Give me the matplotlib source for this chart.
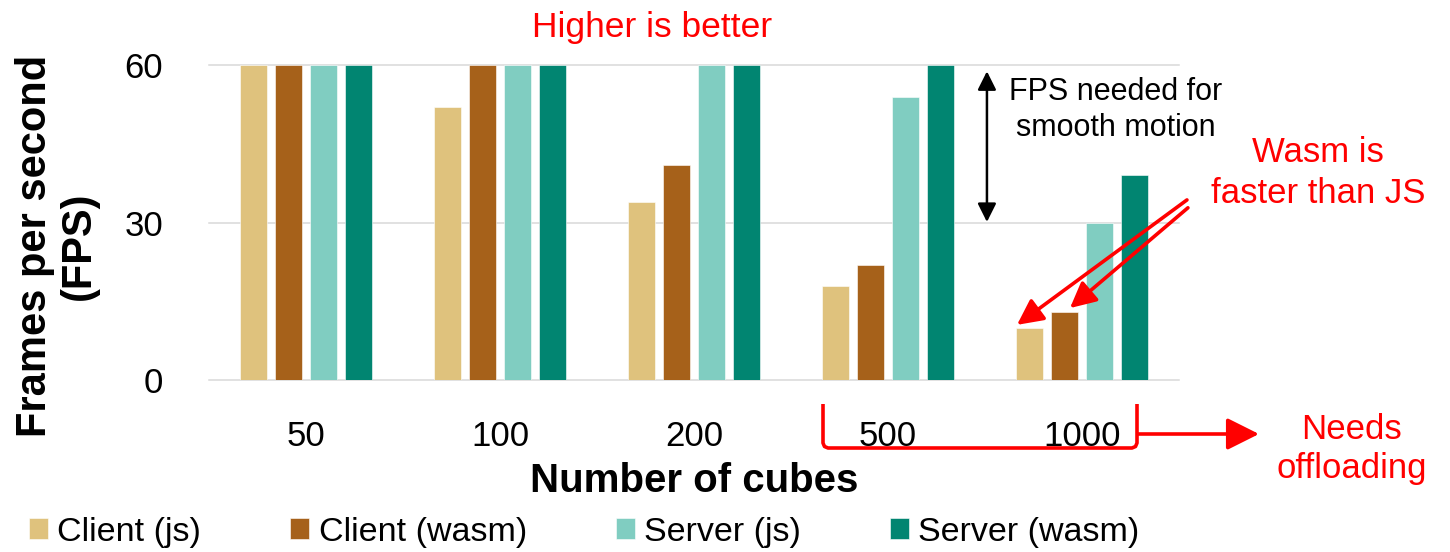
import matplotlib
matplotlib.use("Agg")
import matplotlib.pyplot as plt
import numpy as np
from matplotlib.lines import Line2D

plt.rcParams['font.family'] = ['Liberation Sans', 'DejaVu Sans']

categories = ["50", "100", "200", "500", "1000"]
series_names = ["Client (js)", "Client (wasm)", "Server (js)", "Server (wasm)"]
client_js = [60, 52, 34, 18, 10]
client_wasm = [60, 60, 41, 22, 13]
server_js = [60, 60, 60, 54, 30]
server_wasm = [60, 60, 60, 60, 39]
colors = ["#DFC27D", "#A6611A", "#80CDC1", "#018571"]
yticks = [0, 30, 60]

W, H = 1450, 552
fig = plt.figure(figsize=(W / 100, H / 100), dpi=100)
ax = fig.add_axes([209 / W, 1 - 380 / H, (1179 - 209) / W, (380 - 65) / H])

x = np.arange(len(categories))
step, width = 0.18, 0.142
all_series = [client_js, client_wasm, server_js, server_wasm]
for i, (vals, name, c) in enumerate(zip(all_series, series_names, colors)):
    ax.bar(x + (i - 1.5) * step, vals, width, color=c, label=name, zorder=3,
           edgecolor='white', linewidth=0.4)

ax.set_xlim(-0.5, len(categories) - 0.5)
ax.set_ylim(0, 60)
ax.set_yticks(yticks)
ax.set_yticklabels([str(t) for t in yticks], fontsize=25)
ax.set_xticks(x)
ax.set_xticklabels(categories, fontsize=25)
ax.tick_params(axis='both', length=0)
ax.tick_params(axis='y', pad=33)
ax.tick_params(axis='x', pad=29)
for s in ax.spines.values():
    s.set_visible(False)
ax.set_axisbelow(True)
for t in yticks:
    ax.axhline(t, color='#d9d9d9', linewidth=1.1, zorder=1, clip_on=False)

ax.set_ylabel("Frames per second\n(FPS)", fontsize=30, fontweight='bold',
              linespacing=1.12)
ax.yaxis.set_label_coords(-(209 - 57) / (1179 - 209), (380 - 246) / 315)
ax.yaxis.label.set_va('center')
ax.set_xlabel("Number of cubes", fontsize=29, fontweight='bold')
ax.xaxis.set_label_coords(0.5, -(481 - 380) / 315)
ax.xaxis.label.set_va('center')

def fp(px, py):
    return (px / W, 1 - py / H)

fig.text(*fp(652, 27), "Higher is better", color='red', fontsize=25.5,
         ha='center', va='center')
fig.text(*fp(1116, 110), "FPS needed for\nsmooth motion", color='black',
         fontsize=22, ha='center', va='center', linespacing=1.25)
fig.text(*fp(1318, 173), "Wasm is\nfaster than JS", color='red', fontsize=25,
         ha='center', va='center', linespacing=1.3)
fig.text(*fp(1352, 449), "Needs\noffloading", color='red', fontsize=25,
         ha='center', va='center', linespacing=1.22)

# FPS needed double arrow
ax.annotate("", xy=(3.51, 58.8), xytext=(3.51, 30.1), xycoords='data',
            arrowprops=dict(arrowstyle='<|-|>', color='black', lw=1.8,
                            mutation_scale=28, shrinkA=0, shrinkB=0),
            annotation_clip=False)

# red arrows to client bars
for (x0, y0), (x1, y1) in [((4.541, 34.3), (3.665, 10.5)),
                           ((4.546, 32.8), (3.938, 13.7))]:
    ax.annotate("", xy=(x1, y1), xytext=(x0, y0), xycoords='data',
                arrowprops=dict(arrowstyle='-|>,head_length=0.6,head_width=0.3',
                                color='red', lw=2.6,
                                mutation_scale=26, shrinkA=0, shrinkB=0),
                annotation_clip=False)

# bracket around 500 and 1000 (rounded corners)
r = 5
bx = [823, 823, 823 + r * 0.3, 823 + r, 1137 - r, 1137 - r * 0.3, 1137, 1137]
by = [404, 448 - r, 448 - r * 0.3, 448, 448, 448 - r * 0.3, 448 - r, 404]
fig.add_artist(Line2D([p / W for p in bx], [1 - p / H for p in by],
                      color='red', lw=2.6, solid_joinstyle='round',
                      solid_capstyle='butt', transform=fig.transFigure))
fig.add_artist(matplotlib.patches.FancyArrowPatch(
    fp(1138, 434), fp(1259, 434), transform=fig.transFigure,
    arrowstyle='-|>,head_length=0.7,head_width=0.35', mutation_scale=28,
    color='red', lw=2.6, shrinkA=0, shrinkB=0))

fig.legend(loc='center left', bbox_to_anchor=(29 / W, 1 - 532 / H),
           ncol=4, frameon=False, fontsize=24.5, handlelength=0.56,
           handleheight=0.56, handletextpad=0.27, columnspacing=2.62,
           borderpad=0, borderaxespad=0)

fig.savefig("out.png", dpi=100)
